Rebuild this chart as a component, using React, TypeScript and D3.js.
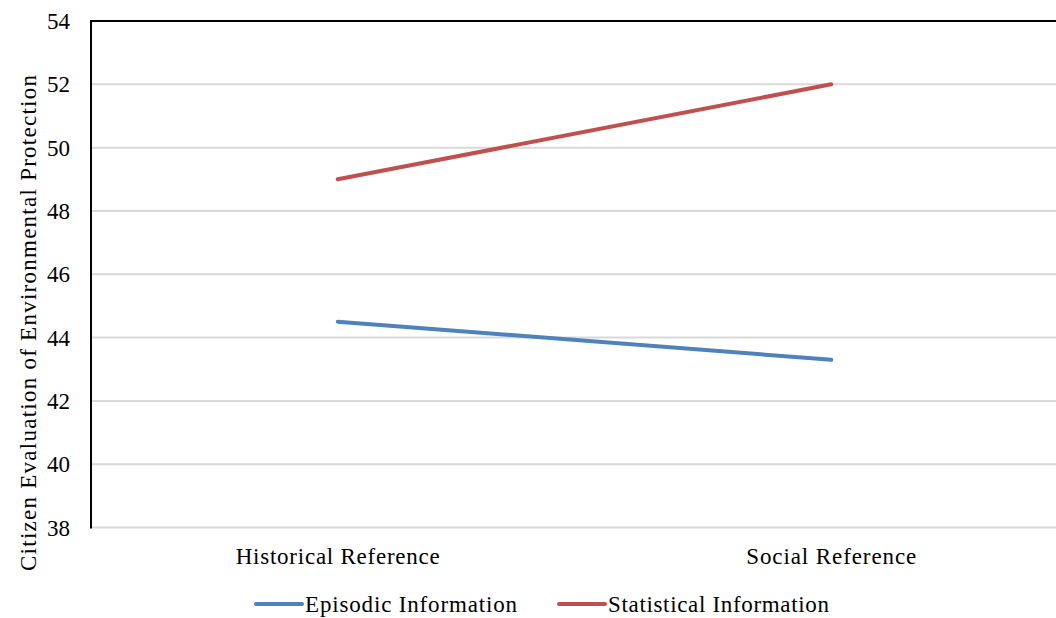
import React from "react";
import * as d3 from "d3";

const categories = ["Historical Reference", "Social Reference"];
const episodic = [44.5, 43.3];
const statistical = [49.0, 52.0];
const yTicks = [38, 40, 42, 44, 46, 48, 50, 52, 54];
const seriesNames = ["Episodic Information", "Statistical Information"];
const seriesColors = ["#4f81bd", "#c0504d"];
const yTitle = "Citizen Evaluation of Environmental Protection";

const W = 1056;
const H = 618;
const left = 91;
const right = 1078;
const top = 21;
const bottom = 527.5;
const serifStack = '"Liberation Serif", "Tinos", "Times New Roman", "FreeSerif", "Noto Serif", serif';
const textStyle = { fontFamily: serifStack };

// spread widths for the spaced-out label lettering
const categoryWidths = [204, 170];
const legendWidths = [212, 221];
const legendX = [256, 559];

export default function App() {
  const x = d3.scalePoint<string>().domain(categories).range([left, right]).padding(0.5);
  const y = d3.scaleLinear().domain([38, 54]).range([bottom, top]);
  const line = d3
    .line<number>()
    .x((_, i) => x(categories[i]) as number)
    .y((d) => y(d));
  const series = [episodic, statistical];

  return (
    <svg
      width={W}
      height={H}
      fontFamily={serifStack}
      style={{ position: "absolute", left: 0, top: 0, background: "#fff", fontFamily: serifStack }}
    >
      {yTicks.map((t) => (
        <g key={t}>
          {t !== 54 && (
            <line x1={left} x2={W} y1={y(t)} y2={y(t)} stroke="#d9d9d9" strokeWidth={2} />
          )}
          <text x={70} y={y(t)} dy="0.35em" textAnchor="end" fontSize={23} fill="#000" style={textStyle}>
            {t}
          </text>
        </g>
      ))}
      {/* top border and value axis */}
      <line x1={left - 1} x2={W} y1={top} y2={top} stroke="#000" strokeWidth={2} />
      <line x1={left} x2={left} y1={top - 1} y2={bottom + 1} stroke="#000" strokeWidth={2} />

      {categories.map((c, i) => (
        <text
          key={c}
          x={x(c) as number}
          y={564}
          textAnchor="middle"
          fontSize={23}
          fill="#000"
          style={textStyle}
          textLength={categoryWidths[i]}
          lengthAdjust="spacing"
        >
          {c}
        </text>
      ))}

      <text
        transform={`translate(36,323) rotate(-90)`}
        textAnchor="middle"
        fontSize={23}
        fill="#000"
        style={textStyle}
        textLength={496}
        lengthAdjust="spacing"
      >
        {yTitle}
      </text>

      {series.map((s, i) => (
        <path
          key={seriesNames[i]}
          d={line(s) as string}
          fill="none"
          stroke={seriesColors[i]}
          strokeWidth={4}
          strokeLinecap="round"
        />
      ))}

      {/* legend */}
      {seriesNames.map((n, i) => {
        const lx = legendX[i];
        return (
          <g key={n}>
            <line x1={lx} x2={lx + 46} y1={604} y2={604} stroke={seriesColors[i]} strokeWidth={4} strokeLinecap="round" />
            <text
              x={lx + 49}
              y={612}
              fontSize={23}
              fill="#000"
              style={textStyle}
              textLength={legendWidths[i]}
              lengthAdjust="spacing"
            >
              {n}
            </text>
          </g>
        );
      })}
    </svg>
  );
}
